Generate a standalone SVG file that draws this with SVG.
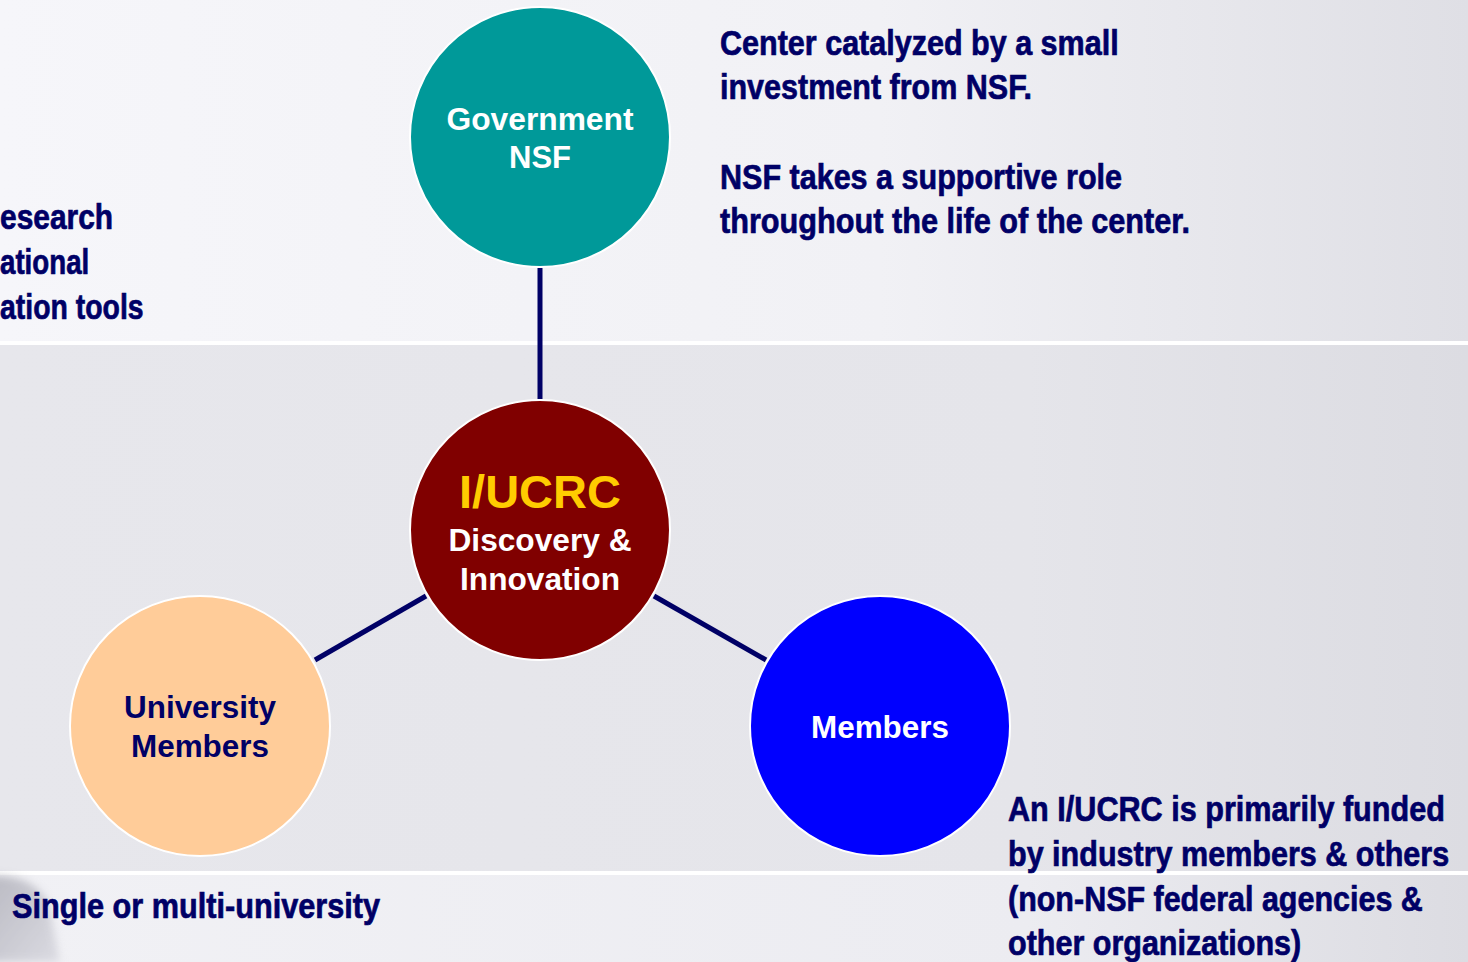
<svg xmlns="http://www.w3.org/2000/svg" width="1468" height="962" viewBox="0 0 1468 962">
  <defs>
    <linearGradient id="bandTop" x1="0" y1="0" x2="1" y2="0">
      <stop offset="0" stop-color="#f6f6fa"/>
      <stop offset="0.6" stop-color="#f1f1f5"/>
      <stop offset="1" stop-color="#dfdfe5"/>
    </linearGradient>
    <linearGradient id="bandMid" x1="0" y1="0" x2="1" y2="0">
      <stop offset="0" stop-color="#e7e7ec"/>
      <stop offset="0.7" stop-color="#e5e5ea"/>
      <stop offset="1" stop-color="#dcdce2"/>
    </linearGradient>
    <linearGradient id="bandLow" x1="0" y1="0" x2="1" y2="0">
      <stop offset="0" stop-color="#f1f1f5"/>
      <stop offset="0.7" stop-color="#ececf1"/>
      <stop offset="1" stop-color="#dcdce2"/>
    </linearGradient>
    <linearGradient id="cornerShade" x1="0" y1="0" x2="1" y2="1">
      <stop offset="0" stop-color="#a8a8b2"/>
      <stop offset="1" stop-color="#d4d4dc"/>
    </linearGradient>
    <filter id="soft" x="-50%" y="-50%" width="200%" height="200%">
      <feGaussianBlur stdDeviation="4"/>
    </filter>
    <style>
      .node { stroke: #ffffff; stroke-width: 2; }
      .link { stroke: #000066; stroke-width: 5; fill: none; }
      .lbl { font-family: "Liberation Sans", Arial, sans-serif; font-weight: bold; text-anchor: middle; }
      .note { font-family: "Liberation Sans", Arial, sans-serif; font-weight: bold; fill: #000066; stroke: #000066; stroke-width: 0.7px; font-size: 36px; }
    </style>
  </defs>

  <!-- background bands -->
  <rect x="0" y="0" width="1468" height="341" fill="url(#bandTop)"/>
  <rect x="0" y="341" width="1468" height="4" fill="#ffffff"/>
  <rect x="0" y="345" width="1468" height="526" fill="url(#bandMid)"/>
  <rect x="0" y="871" width="1468" height="4" fill="#ffffff"/>
  <rect x="0" y="875" width="1468" height="87" fill="url(#bandLow)"/>
  <path d="M-10 876 Q32 874 48 902 L60 962 L-10 962 Z" fill="url(#cornerShade)" filter="url(#soft)" opacity="0.75"/>

  <!-- connectors -->
  <g id="connectors">
    <line class="link" x1="540" y1="268" x2="540" y2="399"/>
    <line class="link" x1="426" y1="596" x2="315" y2="660"/>
    <line class="link" x1="654" y1="596" x2="766" y2="660"/>
  </g>

  <g id="node-government">
    <circle class="node" cx="540" cy="137" r="130" fill="#009999"/>
    <text class="lbl" x="540" y="130" font-size="31" fill="#ffffff" textLength="187" lengthAdjust="spacingAndGlyphs">Government</text>
    <text class="lbl" x="540" y="168" font-size="31" fill="#ffffff">NSF</text>
  </g>

  <g id="node-iucrc">
    <circle class="node" cx="540" cy="530" r="130" fill="#800000"/>
    <text class="lbl" x="540" y="508" font-size="47" fill="#ffcc00">I/UCRC</text>
    <text class="lbl" x="540" y="551" font-size="31" fill="#ffffff" textLength="183" lengthAdjust="spacingAndGlyphs">Discovery &amp;</text>
    <text class="lbl" x="540" y="590" font-size="31" fill="#ffffff" textLength="160" lengthAdjust="spacingAndGlyphs">Innovation</text>
  </g>

  <g id="node-university">
    <circle class="node" cx="200" cy="726" r="130" fill="#ffcc99"/>
    <text class="lbl" x="200" y="718" font-size="31" fill="#000066" textLength="152" lengthAdjust="spacingAndGlyphs">University</text>
    <text class="lbl" x="200" y="757" font-size="31" fill="#000066" textLength="138" lengthAdjust="spacingAndGlyphs">Members</text>
  </g>

  <g id="node-members">
    <circle class="node" cx="880" cy="726" r="130" fill="#0000ff"/>
    <text class="lbl" x="880" y="738" font-size="31" fill="#ffffff" textLength="138" lengthAdjust="spacingAndGlyphs">Members</text>
  </g>

  <!-- side notes, set in a horizontally condensed bold face -->
  <g id="note-nsf" transform="translate(720,0) scale(0.85,1)">
    <text class="note" x="0" y="55" textLength="469" lengthAdjust="spacingAndGlyphs">Center catalyzed by a small</text>
    <text class="note" x="0" y="99" textLength="367" lengthAdjust="spacingAndGlyphs">investment from NSF.</text>
    <text class="note" x="0" y="189" textLength="473" lengthAdjust="spacingAndGlyphs">NSF takes a supportive role</text>
    <text class="note" x="0" y="233" textLength="553" lengthAdjust="spacingAndGlyphs">throughout the life of the center.</text>
  </g>

  <g id="note-left" transform="translate(0,0) scale(0.85,1)">
    <text class="note" x="0" y="229" textLength="133" lengthAdjust="spacingAndGlyphs">esearch</text>
    <text class="note" x="0" y="274" textLength="105" lengthAdjust="spacingAndGlyphs">ational</text>
    <text class="note" x="0" y="319" textLength="169" lengthAdjust="spacingAndGlyphs">ation tools</text>
  </g>

  <g id="note-university" transform="translate(12,0) scale(0.85,1)">
    <text class="note" x="0" y="918" textLength="433" lengthAdjust="spacingAndGlyphs">Single or multi-university</text>
  </g>

  <g id="note-funding" transform="translate(1008,0) scale(0.85,1)">
    <text class="note" x="0" y="821" textLength="514" lengthAdjust="spacingAndGlyphs">An I/UCRC is primarily funded</text>
    <text class="note" x="0" y="866" textLength="519" lengthAdjust="spacingAndGlyphs">by industry members &amp; others</text>
    <text class="note" x="0" y="911" textLength="488" lengthAdjust="spacingAndGlyphs">(non-NSF federal agencies &amp;</text>
    <text class="note" x="0" y="955" textLength="345" lengthAdjust="spacingAndGlyphs">other organizations)</text>
  </g>
</svg>
